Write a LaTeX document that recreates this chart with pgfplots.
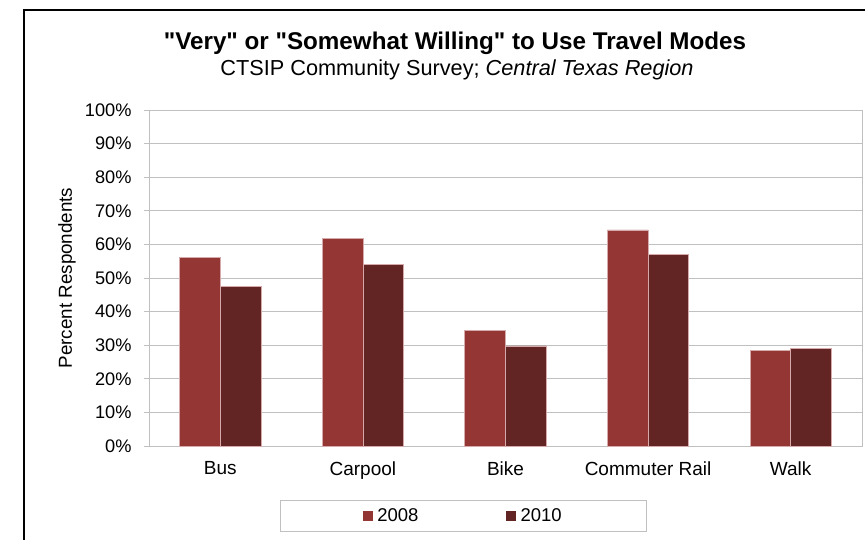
\documentclass[border=0pt]{standalone}
\usepackage{pgfplots}
\pgfplotsset{compat=1.18}
\usepackage{fontspec}
\setmainfont{Liberation Sans}[Ligatures=TeXOff]
\definecolor{cA}{HTML}{943634}
\definecolor{cB}{HTML}{632523}
\definecolor{gridc}{RGB}{192,192,192}
\definecolor{edgec}{RGB}{214,170,170}
\begin{document}
\begin{tikzpicture}
\useasboundingbox (0,0) rectangle (865bp,-540bp);
\fill[white] (0,0) rectangle (865bp,-540bp);
\draw[line width=2.4bp] (24bp,-600bp) -- (24bp,-10bp) -- (900bp,-10bp);
\node[anchor=base,inner sep=0pt,font=\fontsize{24.2bp}{28bp}\selectfont\bfseries] at (455bp,-49bp) {"Very" or "Somewhat Willing" to Use Travel Modes};
\node[anchor=base,inner sep=0pt,font=\fontsize{21.7bp}{25bp}\selectfont] at (457bp,-75bp) {CTSIP Community Survey; \textit{Central Texas Region}};
\begin{axis}[
  at={(149bp,-446bp)}, anchor=south west,
  scale only axis, width=713bp, height=336bp,
  xmin=-0.5, xmax=4.5, ymin=0, ymax=100,
  ybar=0pt, bar width=40.7bp,
  axis line style={gridc, line width=1bp},
  ymajorgrids, grid style={gridc, line width=1bp},
  ytick={0,10,...,100},
  yticklabel={\pgfmathprintnumber{\tick}\%},
  /pgf/number format/assume math mode=true,
  xtick={0,1,2,3,4},
  xticklabels={Bus,Carpool,Bike,Commuter Rail,Walk},
  x tick style={draw=none},
  extra x ticks={-0.5,0.5,1.5,2.5,3.5,4.5},
  extra x tick labels={},
  extra x tick style={major tick length=5bp, tick style={draw=gridc, line width=1bp}},
  tick align=outside, tick pos=left,
  major tick length=5bp,
  y tick style={draw=gridc, line width=1bp},
  ticklabel style={text=black},
  yticklabel style={font=\fontsize{18.2bp}{21bp}\selectfont, xshift=-9bp},
  xticklabel style={font=\fontsize{19bp}{22bp}\selectfont, yshift=-7bp},
  ylabel={Percent Respondents},
  ylabel style={at={(axis description cs:-0.1150,0.5)}, anchor=center, font=\fontsize{18.8bp}{22bp}\selectfont},
  legend columns=2,
  legend style={at={(0.441,-0.1607)}, anchor=north, draw=gridc, line width=1bp,
    font=\fontsize{18.5bp}{21bp}\selectfont, inner xsep=83bp, inner ysep=6.5bp,
    /tikz/every odd column/.append style={column sep=2.5bp},
    /tikz/every even column/.append style={column sep=86bp}},
]
\addplot[fill=cA, draw=edgec, line width=0.7bp,
  legend image code/.code={\fill[cA] (0bp,-4.5bp) rectangle (9bp,4.5bp);}]
  coordinates {(0,56.2) (1,61.7) (2,34.4) (3,64.3) (4,28.5)};
\addplot[fill=cB, draw=edgec, line width=0.7bp,
  legend image code/.code={\fill[cB] (0bp,-4.5bp) rectangle (9bp,4.5bp);}]
  coordinates {(0,47.4) (1,54.0) (2,29.8) (3,56.9) (4,29.1)};
\legend{2008,2010}
\end{axis}
\end{tikzpicture}
\end{document}
